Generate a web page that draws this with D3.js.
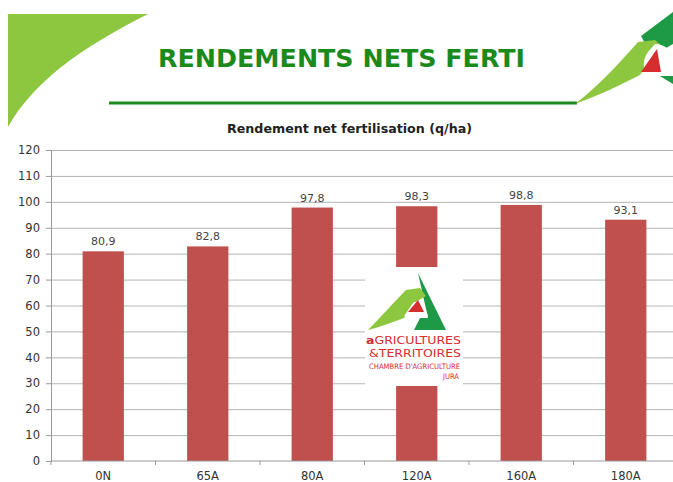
<!DOCTYPE html>
<html><head><meta charset="utf-8">
<script src="https://cdn.jsdelivr.net/npm/d3@7"></script>
<style>html,body{margin:0;padding:0;background:#fff;overflow:hidden}svg{display:block}</style>
</head><body>
<script>
const categories = ["0N", "65A", "80A", "120A", "160A", "180A"];
const values = [80.9, 82.8, 97.8, 98.3, 98.8, 93.1];
const valueLabels = ["80,9", "82,8", "97,8", "98,3", "98,8", "93,1"];
const yTicks = [0, 10, 20, 30, 40, 50, 60, 70, 80, 90, 100, 110, 120];
const title = "RENDEMENTS NETS FERTI";
const subtitle = "Rendement net fertilisation (q/ha)";
const logoLines = ["GRICULTURES", "&TERRITOIRES", "CHAMBRE D'AGRICULTURE", "JURA"];

const W = 673, H = 482;
const svg = d3.select("body").append("svg").attr("width", W).attr("height", H);

const lightGreen = "#8DC63F", darkGreen = "#1E9A47", titleGreen = "#1B8A1B", red = "#D62E2E";

// top-left swoosh
svg.append("path")
  .attr("d", "M8,14 L148,14 C120,28 85,48 60,68 C38,86 20,105 8,127 Z")
  .attr("fill", lightGreen);

// title
svg.append("text").attr("x", 158).attr("y", 67)
  .attr("textLength", 367).attr("lengthAdjust", "spacingAndGlyphs")
  .style("font-family", "'DejaVu Sans', Verdana, sans-serif").style("font-weight", "bold")
  .style("font-size", "24px").attr("fill", titleGreen).text(title);

// underline
svg.append("rect").attr("x", 109).attr("y", 101.5).attr("width", 468).attr("height", 3).attr("fill", titleGreen);

// top-right logo
const tr = svg.append("g");
tr.append("path").attr("d", "M673,12 L641,36 L652,56 L673,44 Z").attr("fill", darkGreen);
tr.append("path").attr("d", "M640,64 L673,84 L673,64 Z").attr("fill", darkGreen);
tr.append("path").attr("d", "M575,104 C600,85 620,62 638,42 L655,40 L663,47 L650,60 L640,75 C620,85 600,95 575,104 Z").attr("fill", lightGreen);
tr.append("path").attr("d", "M655,44 C666,44 673,52 673,62 L673,76 L650,76 C642,72 642,60 648,52 Z").attr("fill", "#fff");
tr.append("path").attr("d", "M641,72 L657,49 L661,72 Z").attr("fill", red);

// subtitle
svg.append("text").attr("x", 227).attr("y", 133)
  .attr("textLength", 245).attr("lengthAdjust", "spacingAndGlyphs")
  .style("font-family", "'DejaVu Sans', Verdana, sans-serif").style("font-weight", "bold")
  .style("font-size", "12px").attr("fill", "#222").text(subtitle);

// scales
const x = d3.scaleBand().domain(categories).range([51, 678]);
const y = d3.scaleLinear().domain([0, 120]).range([461, 150]);
const barW = x.bandwidth() * 0.395;

// gridlines
svg.append("g").attr("transform", "translate(51,0)")
  .call(d3.axisLeft(y).tickValues(yTicks.filter(d => d > 0)).tickSize(-W).tickFormat(""))
  .call(g => g.select(".domain").remove())
  .call(g => g.selectAll("line").attr("stroke", "#b4b4b4"));

// bars
svg.append("g").selectAll("rect").data(values).join("rect")
  .attr("x", (d, i) => x(categories[i]) + x.bandwidth() / 2 - barW / 2)
  .attr("y", d => y(d)).attr("width", barW).attr("height", d => y(0) - y(d))
  .attr("fill", "#C0504D");

// value labels
svg.append("g").selectAll("text").data(values).join("text")
  .attr("x", (d, i) => x(categories[i]) + x.bandwidth() / 2)
  .attr("y", d => y(d) - 6).attr("text-anchor", "middle")
  .style("font-family", "'DejaVu Sans', Verdana, sans-serif").style("font-size", "11px")
  .attr("fill", "#444").text((d, i) => valueLabels[i]);

// y axis
svg.append("g").attr("transform", "translate(51,0)")
  .call(d3.axisLeft(y).tickValues(yTicks).tickSize(5).tickPadding(6).tickFormat(d => d))
  .call(g => g.select(".domain").attr("stroke", "#999"))
  .call(g => g.selectAll("line").attr("stroke", "#999"))
  .call(g => g.selectAll("text").attr("fill", "#333")
    .style("font-family", "'DejaVu Sans', Verdana, sans-serif").style("font-size", "11.5px"));

// x axis baseline + ticks at band boundaries
svg.append("line").attr("x1", 51).attr("x2", W).attr("y1", y(0)).attr("y2", y(0)).attr("stroke", "#999");
svg.append("g").selectAll("line").data(categories.concat([null])).join("line")
  .attr("x1", (d, i) => 51 + i * x.step()).attr("x2", (d, i) => 51 + i * x.step())
  .attr("y1", y(0)).attr("y2", y(0) + 4).attr("stroke", "#999");
svg.append("g").selectAll("text").data(categories).join("text")
  .attr("x", d => x(d) + x.bandwidth() / 2).attr("y", 480).attr("text-anchor", "middle")
  .style("font-family", "'DejaVu Sans', Verdana, sans-serif").style("font-size", "11.5px")
  .attr("fill", "#333").text(d => d);

// center logo
const lg = svg.append("g");
lg.append("rect").attr("x", 365).attr("y", 267).attr("width", 98).attr("height", 119).attr("fill", "#fff");
lg.append("path").attr("d", "M418,273 L446,330 L414,330 L420,318 L428,318 Z").attr("fill", darkGreen);
lg.append("path").attr("d", "M368,330 C382,316 396,300 406,290 L420,288 L426,296 L412,304 L404,318 C392,322 380,327 368,330 Z").attr("fill", lightGreen);
lg.append("path").attr("d", "M404,316 L414,302 L424,304 L428,316 Z").attr("fill", "#fff");
lg.append("path").attr("d", "M408,312 L418,300 L424,312 Z").attr("fill", red);
const lf = "'Liberation Sans Narrow', 'DejaVu Sans Condensed', sans-serif";
lg.append("text").attr("x", 366).attr("y", 344).attr("textLength", 95).attr("lengthAdjust", "spacingAndGlyphs")
  .style("font-family", lf).style("font-size", "10.5px").attr("fill", red)
  .call(t => { t.append("tspan").style("font-weight", "bold").text("a"); t.append("tspan").text(logoLines[0]); });
lg.append("text").attr("x", 369).attr("y", 357).attr("textLength", 92).attr("lengthAdjust", "spacingAndGlyphs")
  .style("font-family", lf).style("font-size", "10.5px").attr("fill", red).text(logoLines[1]);
lg.append("text").attr("x", 369).attr("y", 369).attr("textLength", 91).attr("lengthAdjust", "spacingAndGlyphs")
  .style("font-family", lf).style("font-size", "7.5px").attr("fill", red).text(logoLines[2]);
lg.append("text").attr("x", 459).attr("y", 379).attr("text-anchor", "end")
  .style("font-family", lf).style("font-size", "7.5px").attr("fill", red).text(logoLines[3]);
</script>
</body></html>
